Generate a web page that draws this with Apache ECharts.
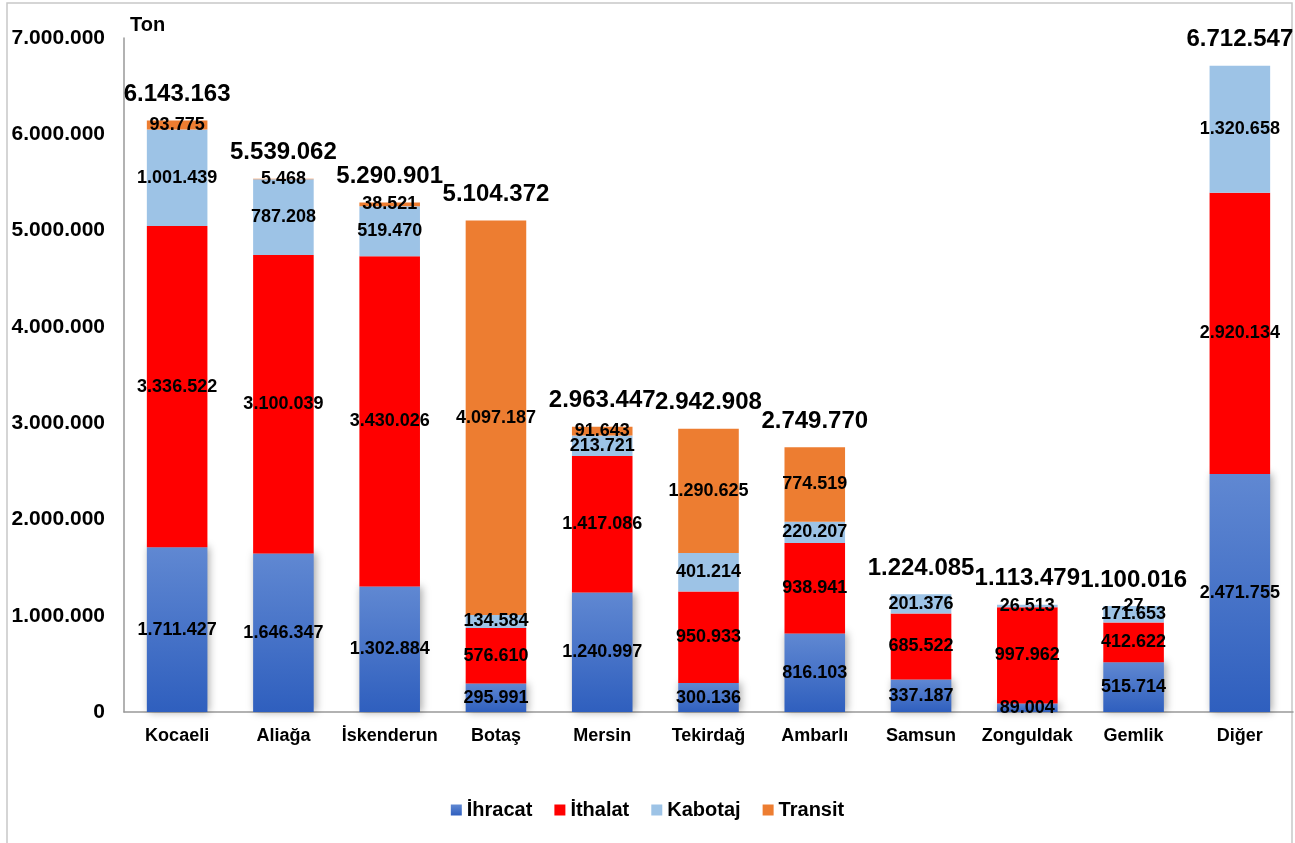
<!DOCTYPE html>
<html>
<head>
<meta charset="utf-8">
<style>
html,body{margin:0;padding:0;background:#fff;}
#chart{width:1295px;height:843px;}
</style>
<script src="https://cdn.jsdelivr.net/npm/echarts@6/dist/echarts.min.js"></script>
</head>
<body>
<div id="chart"></div>
<script>
const categories = ['Kocaeli','Aliağa','İskenderun','Botaş','Mersin','Tekirdağ','Ambarlı','Samsun','Zonguldak','Gemlik','Diğer'];
const ihracat = [1711427,1646347,1302884,295991,1240997,300136,816103,337187,89004,515714,2471755];
const ithalat = [3336522,3100039,3430026,576610,1417086,950933,938941,685522,997962,412622,2920134];
const kabotaj = [1001439,787208,519470,134584,213721,401214,220207,201376,26513,171653,1320658];
const transit = [93775,5468,38521,4097187,91643,1290625,774519,0,0,27,0];
const totals = [6143163,5539062,5290901,5104372,2963447,2942908,2749770,1224085,1113479,1100016,6712547];
const yTicks = [0,1000000,2000000,3000000,4000000,5000000,6000000,7000000];

const FONT = '"Liberation Sans", Arial, sans-serif';
function fmt(n){ return String(n).replace(/\B(?=(\d{3})+(?!\d))/g,'.'); }

const segLabel = {
  show:true, position:'inside', color:'#000', fontFamily:FONT, fontWeight:'bold', fontSize:18,
  formatter:p => p.value ? fmt(p.value) : ''
};

function seg(name, data, itemStyle, label){
  return {
    name, type:'bar', stack:'s', data, barWidth:'57%',
    itemStyle, label: label || segLabel,
    emphasis:{disabled:true}
  };
}

const chart = echarts.init(document.getElementById('chart'));
chart.setOption({
  animation:false,
  backgroundColor:'#fff',
  textStyle:{fontFamily:FONT},
  graphic:[{type:'rect', shape:{x:7,y:3,width:1285,height:900}, style:{fill:'none', stroke:'#c8c8c8', lineWidth:1.5}, silent:true}],
  grid:{left:124, right:2, top:38, bottom:131, containLabel:false},
  legend:{
    data:['İhracat','İthalat','Kabotaj','Transit'],
    bottom:18, left:'center', itemWidth:11, itemHeight:11, itemGap:22,
    icon:'rect',
    textStyle:{fontFamily:FONT, fontWeight:'bold', fontSize:20, color:'#000'}
  },
  xAxis:{
    type:'category', data:categories,
    axisLine:{lineStyle:{color:'#999', width:1.5}},
    axisTick:{show:false},
    axisLabel:{color:'#000', fontFamily:FONT, fontWeight:'bold', fontSize:18, margin:15, interval:0}
  },
  yAxis:{
    type:'value', min:0, max:7000000, interval:1000000,
    name:'Ton', nameLocation:'end', nameGap:3,
    nameTextStyle:{color:'#000', fontFamily:FONT, fontWeight:'bold', fontSize:20, align:'left', padding:[0,0,0,6]},
    axisLine:{show:true, lineStyle:{color:'#999', width:1.5}},
    axisTick:{show:false},
    splitLine:{show:false},
    axisLabel:{color:'#000', fontFamily:FONT, fontWeight:'bold', fontSize:21, margin:19,
      formatter:v => yTicks.indexOf(v) >= 0 ? fmt(v) : ''}
  },
  series:[
    seg('İhracat', ihracat, {
      color:{type:'linear', x:0, y:0, x2:0, y2:1, colorStops:[{offset:0,color:'#6088d2'},{offset:1,color:'#2f5fbe'}]},
      shadowBlur:8, shadowColor:'rgba(0,0,0,0.35)', shadowOffsetX:2, shadowOffsetY:0
    }),
    seg('İthalat', ithalat, {color:'#ff0000'}),
    seg('Kabotaj', kabotaj, {color:'#9dc3e6'}),
    seg('Transit', transit, {color:'#ed7d31'}),
    seg('Toplam', totals.map(() => 0), {color:'rgba(0,0,0,0)'}, {
      show:true, position:'top', distance:14, color:'#000', fontFamily:FONT, fontWeight:'bold', fontSize:24,
      formatter:p => fmt(totals[p.dataIndex])
    })
  ]
});
</script>
</body>
</html>
